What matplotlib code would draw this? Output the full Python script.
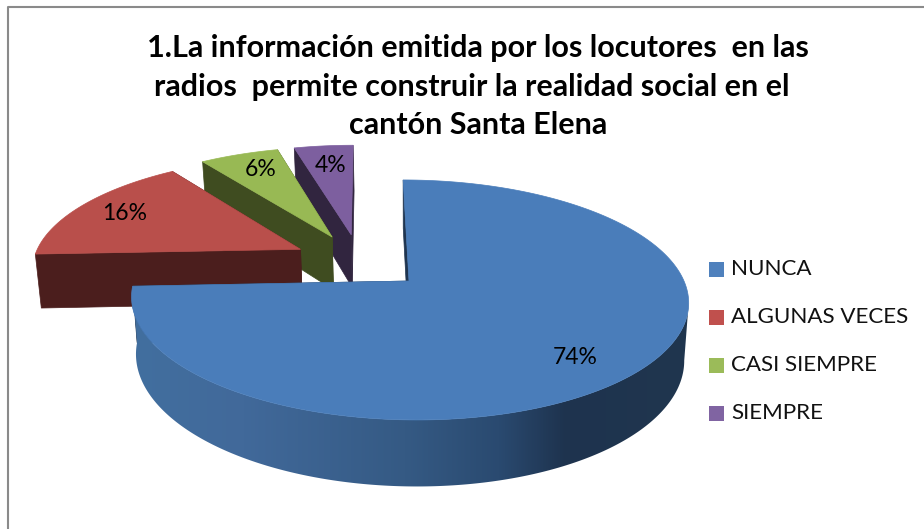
import numpy as np
import matplotlib
matplotlib.use('Agg')
from matplotlib import pyplot as plt
from matplotlib.colors import LinearSegmentedColormap
from matplotlib.patches import Polygon, Rectangle

plt.rcParams['font.family'] = ['Lato', 'DejaVu Sans']

title_lines = ['1.La información emitida por los locutores  en las',
               'radios  permite construir la realidad social en el',
               'cantón Santa Elena']
labels = ['NUNCA', 'ALGUNAS VECES', 'CASI SIEMPRE', 'SIEMPRE']
values = [74.3, 15.9, 5.6, 4.2]

top_colors = ['#4a7dba', '#b94f4b', '#98b954', '#7d5f9f']
wall_colors = ['#1f3550', '#4b1e1d', '#3f4c20', '#31253f']
legend_colors = ['#4f81bd', '#c0504d', '#9bbb59', '#8064a2']

# pie geometry in pixels, perspective squashes the back of the disc
OX, OY = 409, 281
VX, SX = 366, 410
R, K, H = 275, 117, 56
P, SHRINK = 0.158, 0.016
EXPLODE = 0.25
# label spots, pixels
label_xy = [(575, 357), (125, 214), (261, 170), (331, 166)]
title_xy = [(478, 48), (471.5, 87), (478, 125)]


def proj(x, z, low=False):
    d = 1 + P * z
    px = VX + (R * x + OX - VX) / d
    py = OY - K * z / d
    if low:
        px = SX + (px - SX) * (1 - SHRINK)
        py = py + H / d
    return px, py


def arc(cx, cz, a1, a2, low=False, n=240):
    t = np.radians(np.linspace(a1, a2, n))
    return np.column_stack(proj(cx + np.sin(t), cz + np.cos(t), low))


fig = plt.figure(figsize=(9.24, 5.29), dpi=100)
ax = fig.add_axes([0, 0, 1, 1])
ax.axis('off')

# chart frame, only top and left survive in the picture
ax.plot([8, 8, 924], [529, 6.5, 6.5], color='#8a8a8a', lw=1.5, solid_capstyle='butt')

edges = np.cumsum([0] + values) / sum(values) * 360
# the whole pie sits behind the blue slice apex, blue is exploded too
first_mid = np.radians((edges[0] + edges[1]) / 2)
base_x = -EXPLODE * np.sin(first_mid)
base_z = -EXPLODE * np.cos(first_mid)

wall_cmap = LinearSegmentedColormap.from_list('wall', [
    (0.0, '#426f9f'), (0.2, '#41699a'), (0.49, '#355a84'),
    (0.66, '#2a4a70'), (0.78, '#1e334e'), (1.0, '#20364f')])

# back slices first, blue goes on top of them
for i in [3, 2, 1, 0]:
    a1, a2 = edges[i], edges[i + 1]
    mid = np.radians((a1 + a2) / 2)
    cx = base_x + EXPLODE * np.sin(mid)
    cz = base_z + EXPLODE * np.cos(mid)
    apex_top = np.array(proj(cx, cz))
    apex_low = np.array(proj(cx, cz, True))
    for a in (a1, a2):
        out_top = arc(cx, cz, a, a)[0]
        out_low = arc(cx, cz, a, a, True)[0]
        ax.add_patch(Polygon([out_top, apex_top, apex_low, out_low],
                             fc=wall_colors[i], ec=wall_colors[i], lw=0.5))
    if i == 0:
        # outer wall from the rightmost point round the front, gradient by screen x
        upper = arc(cx, cz, a1, a2, n=800)
        lower = arc(cx, cz, a1, a2, True, n=800)
        outline = np.vstack([upper[upper[:, 0].argmax():], lower[lower[:, 0].argmax():][::-1]])
        side = Polygon(outline, fc='none', ec='none')
        ax.add_patch(side)
        img = ax.imshow(np.linspace(0, 1, 256).reshape(1, -1), cmap=wall_cmap,
                        extent=[132, 689, 500, 200], aspect='auto', zorder=1)
        img.set_clip_path(side)
    ax.add_patch(Polygon(np.vstack([apex_top, arc(cx, cz, a1, a2)]),
                         fc=top_colors[i], ec=top_colors[i], lw=0.5))
    ax.text(label_xy[i][0], label_xy[i][1], '%.0f%%' % values[i], fontsize=16.5,
            ha='center', va='center', color='black')

for line, (tx, ty) in zip(title_lines, title_xy):
    ax.text(tx, ty, line, fontsize=22, fontweight='bold', ha='center', va='center', color='black')

# legend
for j, name in enumerate(labels):
    ly = 269.5 + 48 * j
    ax.add_patch(Rectangle((709, ly - 7.5), 15, 15, fc=legend_colors[j], ec='none'))
    ax.text(731, ly - 0.5, name, fontsize=16.1, ha='left', va='center', color='#111111')

ax.set_xlim(0, 924)
ax.set_ylim(529, 0)
fig.savefig('out.png', dpi=100, facecolor='white')
